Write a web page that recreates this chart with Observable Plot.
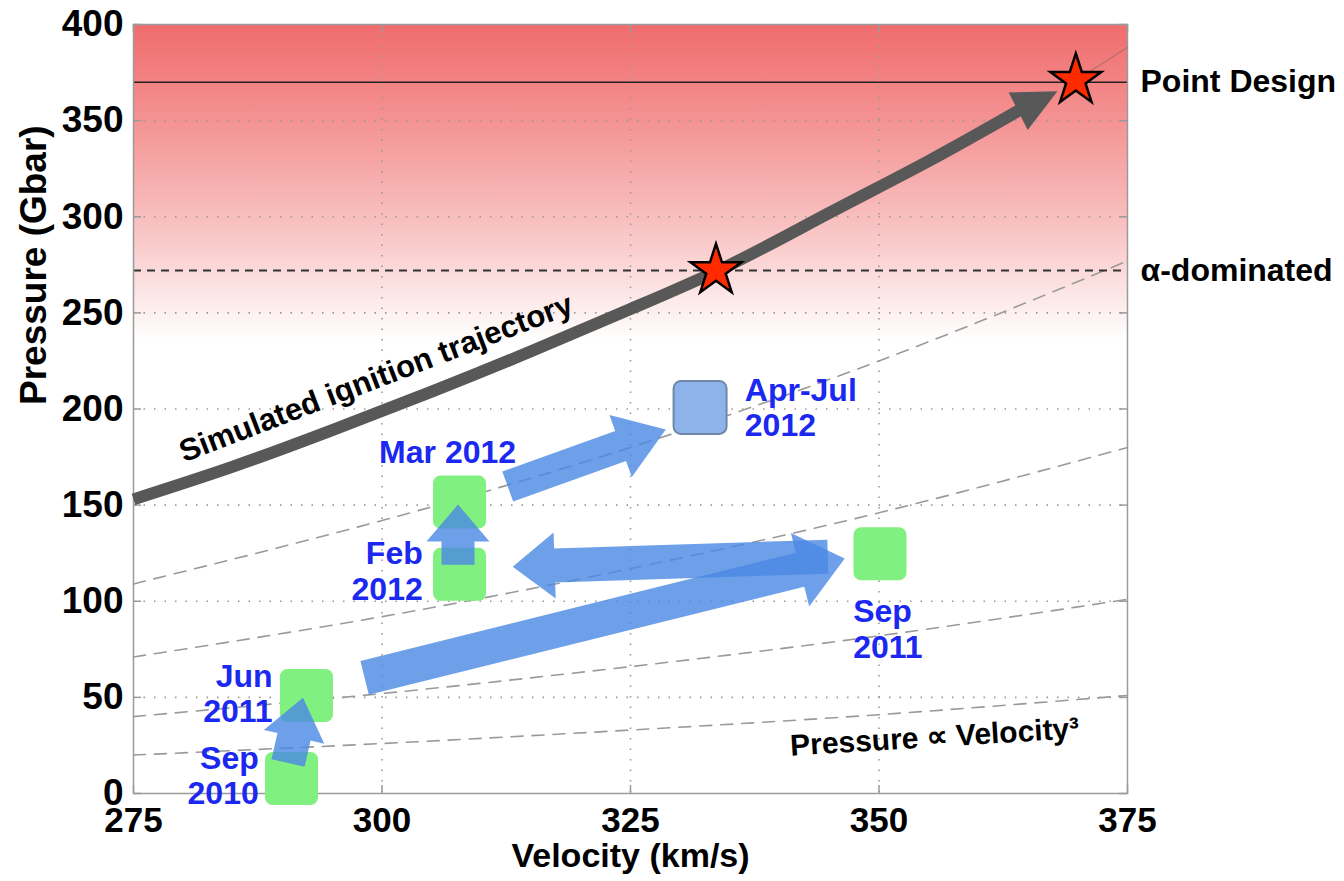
<!DOCTYPE html>
<html>
<head>
<meta charset="utf-8">
<script src="https://cdn.jsdelivr.net/npm/d3@7"></script>
<script src="https://cdn.jsdelivr.net/npm/@observablehq/plot@0.6"></script>
<style>
  html, body { margin: 0; padding: 0; background: white; }
  #chart { width: 1344px; height: 881px; }
</style>
</head>
<body>
<div id="chart"></div>
<script>
// ---------- data ----------
const velocityTicks = [275, 300, 325, 350, 375];
const pressureTicks = [0, 50, 100, 150, 200, 250, 300, 350, 400];
const gridVelocity = [300, 325, 350];
const gridPressure = [50, 100, 150, 200, 250, 300, 350];

// shaded ignition zone (Gbar)
const ignitionZone = [{vMin: 275, vMax: 375, pMin: 235, pMax: 400}];

// reference levels
const refLevels = [
  {label: "Point Design", p: 370},
  {label: "α-dominated", p: 272}
];

// simulated ignition trajectory
const trajVelocity = [275, 285, 295, 305, 315, 325, 335, 345, 355, 365];
const trajPressure = [153, 170, 189, 209, 230, 252, 275, 302, 329, 358];
const trajHeadFrom = {v: 360, p: 344};
const trajHeadTip = {v: 368, p: 365};
const trajExtensionV = [369.8, 375];
const trajExtensionP = [371, 388];

// Pressure ∝ Velocity^3 guide curves
const guideVelocity = [275, 300, 325, 350, 375];
const guideA = [109, 142, 180, 225, 277];
const guideB = [71, 92, 117, 146, 180];
const guideC = [40, 52, 66, 82, 101];
const guideD = [20, 26, 33, 41, 51];

// stars
const starV = [333.6, 369.8];
const starP = [272, 371];

// shots
const shotLabel = ["Sep\n2010", "Jun\n2011", "Feb\n2012", "Mar 2012", "Sep\n2011", "Apr-Jul\n2012"];
const shotV = [290.9, 292.4, 307.8, 307.8, 350.1, 332.0];
const shotP = [7.8, 51, 114, 151.6, 124.7, 200.8];
const shotKind = ["green", "green", "green", "green", "green", "blue"];
// label anchor points
const labelV = [287.6, 289.0, 304.1, 306.6, 347.4, 336.5];
const labelP = [9.6, 52.3, 115.9, 177.6, 85.7, 200.8];
const labelAlign = ["end", "end", "end", "middle", "start", "start"];

// progress arrows (tail -> tip)
const arrowTailV = [290.6, 298.3, 344.9, 307.7, 312.7];
const arrowTailP = [15.6, 59.9, 122.9, 118.75, 159.4];
const arrowTipV = [292.1, 346.6, 313.2, 307.7, 328.6];
const arrowTipP = [49.5, 121.9, 117.7, 150.0, 189.0];

// annotation texts
const trajLabel = [{text: "Simulated ignition trajectory", v: 299.4, p: 216}];
const scalingLabel = [{text: "Pressure ∝ Velocity³", v: 355.6, p: 29.2}];

// ---------- styles (kept apart from data) ----------
const arrowShaft = [34, 35, 34, 33, 32];
const arrowHeadW = [62, 76, 66, 63, 66];
const arrowHeadL = [40, 46, 42, 37, 48];
const FONT = "'Liberation Sans', Arial, Helvetica, sans-serif";
const BLUE_TEXT = "#1a28f0";
const GRID = "#9a9a9a";

// ---------- build tables ----------
const traj = trajVelocity.map((v, i) => ({v, p: trajPressure[i]}));
const trajExt = trajExtensionV.map((v, i) => ({v, p: trajExtensionP[i]}));
const guides = [];
[["A", guideA], ["B", guideB], ["C", guideC], ["D", guideD]].forEach(([k, arr]) =>
  guideVelocity.forEach((v, i) => guides.push({curve: k, v, p: arr[i]})));
const stars = starV.map((v, i) => ({v, p: starP[i]}));
const shots = shotV.map((v, i) => ({v, p: shotP[i], kind: shotKind[i]}));
const labels = shotLabel.map((t, i) => ({text: t, v: labelV[i], p: labelP[i], align: labelAlign[i]}));
const vMin = velocityTicks[0], vMax = velocityTicks[velocityTicks.length - 1];
const pMin = pressureTicks[0], pMax = pressureTicks[pressureTicks.length - 1];

// rounded square symbol
const roundedSquare = {
  draw(ctx, size) {
    const s = Math.sqrt(size) / 2, r = s * 0.28;
    ctx.moveTo(-s + r, -s);
    ctx.lineTo(s - r, -s);
    ctx.arcTo(s, -s, s, -s + r, r);
    ctx.lineTo(s, s - r);
    ctx.arcTo(s, s, s - r, s, r);
    ctx.lineTo(-s + r, s);
    ctx.arcTo(-s, s, -s, s - r, r);
    ctx.lineTo(-s, -s + r);
    ctx.arcTo(-s, -s, -s + r, -s, r);
    ctx.closePath();
  }
};

// gradient defs as a function mark
function gradientDefs() {
  const defs = d3.create("svg:defs");
  const lg = defs.append("linearGradient").attr("id", "ignGrad")
    .attr("x1", 0).attr("y1", 0).attr("x2", 0).attr("y2", 1);
  [[0, "#f06c6c"], [0.3, "#f49292"], [0.65, "#f9c4c4"], [1, "#ffffff"]].forEach(([o, c]) =>
    lg.append("stop").attr("offset", o).attr("stop-color", c));
  return defs.node();
}

// block arrows drawn through the plot's scales
function blockArrows(tV, tP, hV, hP, shaft, headW, headL, fill, opacity) {
  return (index, scales) => {
    const g = d3.create("svg:g");
    for (let i = 0; i < tV.length; i++) {
      const x0 = scales.x(tV[i]), y0 = scales.y(tP[i]);
      const x1 = scales.x(hV[i]), y1 = scales.y(hP[i]);
      const len = Math.hypot(x1 - x0, y1 - y0);
      const ux = (x1 - x0) / len, uy = (y1 - y0) / len;
      const nx = -uy, ny = ux;
      const bx = x1 - ux * headL[i], by = y1 - uy * headL[i];
      const sw = shaft[i] / 2, hw = headW[i] / 2;
      const pts = [
        [x0 + nx * sw, y0 + ny * sw],
        [bx + nx * sw, by + ny * sw],
        [bx + nx * hw, by + ny * hw],
        [x1, y1],
        [bx - nx * hw, by - ny * hw],
        [bx - nx * sw, by - ny * sw],
        [x0 - nx * sw, y0 - ny * sw]
      ];
      g.append("path")
        .attr("d", "M" + pts.map(p => p[0].toFixed(1) + "," + p[1].toFixed(1)).join("L") + "Z")
        .attr("fill", fill)
        .attr("fill-opacity", opacity);
    }
    return g.node();
  };
}

const chart = Plot.plot({
  width: 1344,
  height: 881,
  marginTop: 24,
  marginLeft: 133,
  marginRight: 217,
  marginBottom: 88,
  style: {fontFamily: FONT, fontWeight: "bold", fontSize: "37px", color: "black", background: "white", overflow: "visible"},
  x: {domain: [vMin, vMax], label: null},
  y: {domain: [pMin, pMax], label: null},
  marks: [
    gradientDefs,
    Plot.rect(ignitionZone, {x1: "vMin", x2: "vMax", y1: "pMin", y2: "pMax", fill: "url(#ignGrad)"}),
    Plot.gridX(gridVelocity, {stroke: GRID, strokeOpacity: 1, strokeWidth: 1.6, strokeDasharray: "1.5,9"}),
    Plot.gridY(gridPressure, {stroke: GRID, strokeOpacity: 1, strokeWidth: 1.6, strokeDasharray: "1.5,9"}),
    Plot.line(guides, {x: "v", y: "p", z: "curve", stroke: GRID, strokeWidth: 1.6, strokeDasharray: "12,9", curve: "natural"}),
    Plot.ruleY(refLevels.slice(0, 1), {y: "p", stroke: "#222", strokeWidth: 1.5}),
    Plot.ruleY(refLevels.slice(1), {y: "p", stroke: "#333", strokeWidth: 2, strokeDasharray: "8,6"}),
    Plot.frame({stroke: GRID, strokeWidth: 1.5}),
    // inward tick marks on all four sides
    Plot.ruleX(velocityTicks, {x: d => d, y1: () => pMin, y2: () => pMin, insetTop: -8, stroke: GRID, strokeWidth: 1.5}),
    Plot.ruleX(velocityTicks, {x: d => d, y1: () => pMax, y2: () => pMax, insetBottom: -8, stroke: GRID, strokeWidth: 1.5}),
    Plot.ruleY(pressureTicks, {y: d => d, x1: () => vMin, x2: () => vMin, insetRight: -8, stroke: GRID, strokeWidth: 1.5}),
    Plot.ruleY(pressureTicks, {y: d => d, x1: () => vMax, x2: () => vMax, insetLeft: -8, stroke: GRID, strokeWidth: 1.5}),
    Plot.axisX(velocityTicks, {tickSize: 0, tickPadding: 14, label: null, fontSize: 35}),
    Plot.axisY(pressureTicks, {tickSize: 0, tickPadding: 10, label: null}),
    Plot.text(["Pressure (Gbar)"], {frameAnchor: "left", rotate: -90, dx: -99, dy: -4, fontSize: 37}),
    Plot.text(["Velocity (km/s)"], {frameAnchor: "bottom", dy: 73, fontSize: 34}),
    Plot.text(refLevels, {frameAnchor: "right", y: "p", text: "label", textAnchor: "start", dx: 13, fontSize: 32}),
    Plot.line(trajExt, {x: "v", y: "p", stroke: "#b07070", strokeWidth: 1.2}),
    Plot.line(traj, {x: "v", y: "p", stroke: "#585858", strokeWidth: 12, strokeLinecap: "butt", curve: "natural"}),
    blockArrows([trajHeadFrom.v], [trajHeadFrom.p], [trajHeadTip.v], [trajHeadTip.p], [0], [42], [44], "#585858", 1),
    Plot.dot(stars, {x: "v", y: "p", symbol: "star", r: 16, fill: "#ff2a00", stroke: "black", strokeWidth: 2.5}),
    Plot.dot(shots, {filter: d => d.kind === "green", x: "v", y: "p", symbol: roundedSquare, r: 29.9, fill: "#80f080"}),
    Plot.dot(shots, {filter: d => d.kind === "blue", x: "v", y: "p", symbol: roundedSquare, r: 29.9, fill: "#8db3ea", stroke: "#6f87a8", strokeWidth: 2}),
    blockArrows(arrowTailV, arrowTailP, arrowTipV, arrowTipP, arrowShaft, arrowHeadW, arrowHeadL, "#4a88e4", 0.8),
    Plot.text(labels, {filter: d => d.align === "end", x: "v", y: "p", text: "text", textAnchor: "end", fill: BLUE_TEXT, fontSize: 32, lineHeight: 1.1}),
    Plot.text(labels, {filter: d => d.align === "middle", x: "v", y: "p", text: "text", textAnchor: "middle", fill: BLUE_TEXT, fontSize: 32, lineHeight: 1.1}),
    Plot.text(labels, {filter: d => d.align === "start", x: "v", y: "p", text: "text", textAnchor: "start", fill: BLUE_TEXT, fontSize: 32, lineHeight: 1.1}),
    Plot.text(trajLabel, {x: "v", y: "p", text: "text", rotate: -21, fontSize: 31, fill: "black"}),
    Plot.text(scalingLabel, {x: "v", y: "p", text: "text", rotate: -3.5, fontSize: 30, fill: "black"})
  ]
});
document.getElementById("chart").appendChild(chart);
</script>
</body>
</html>
